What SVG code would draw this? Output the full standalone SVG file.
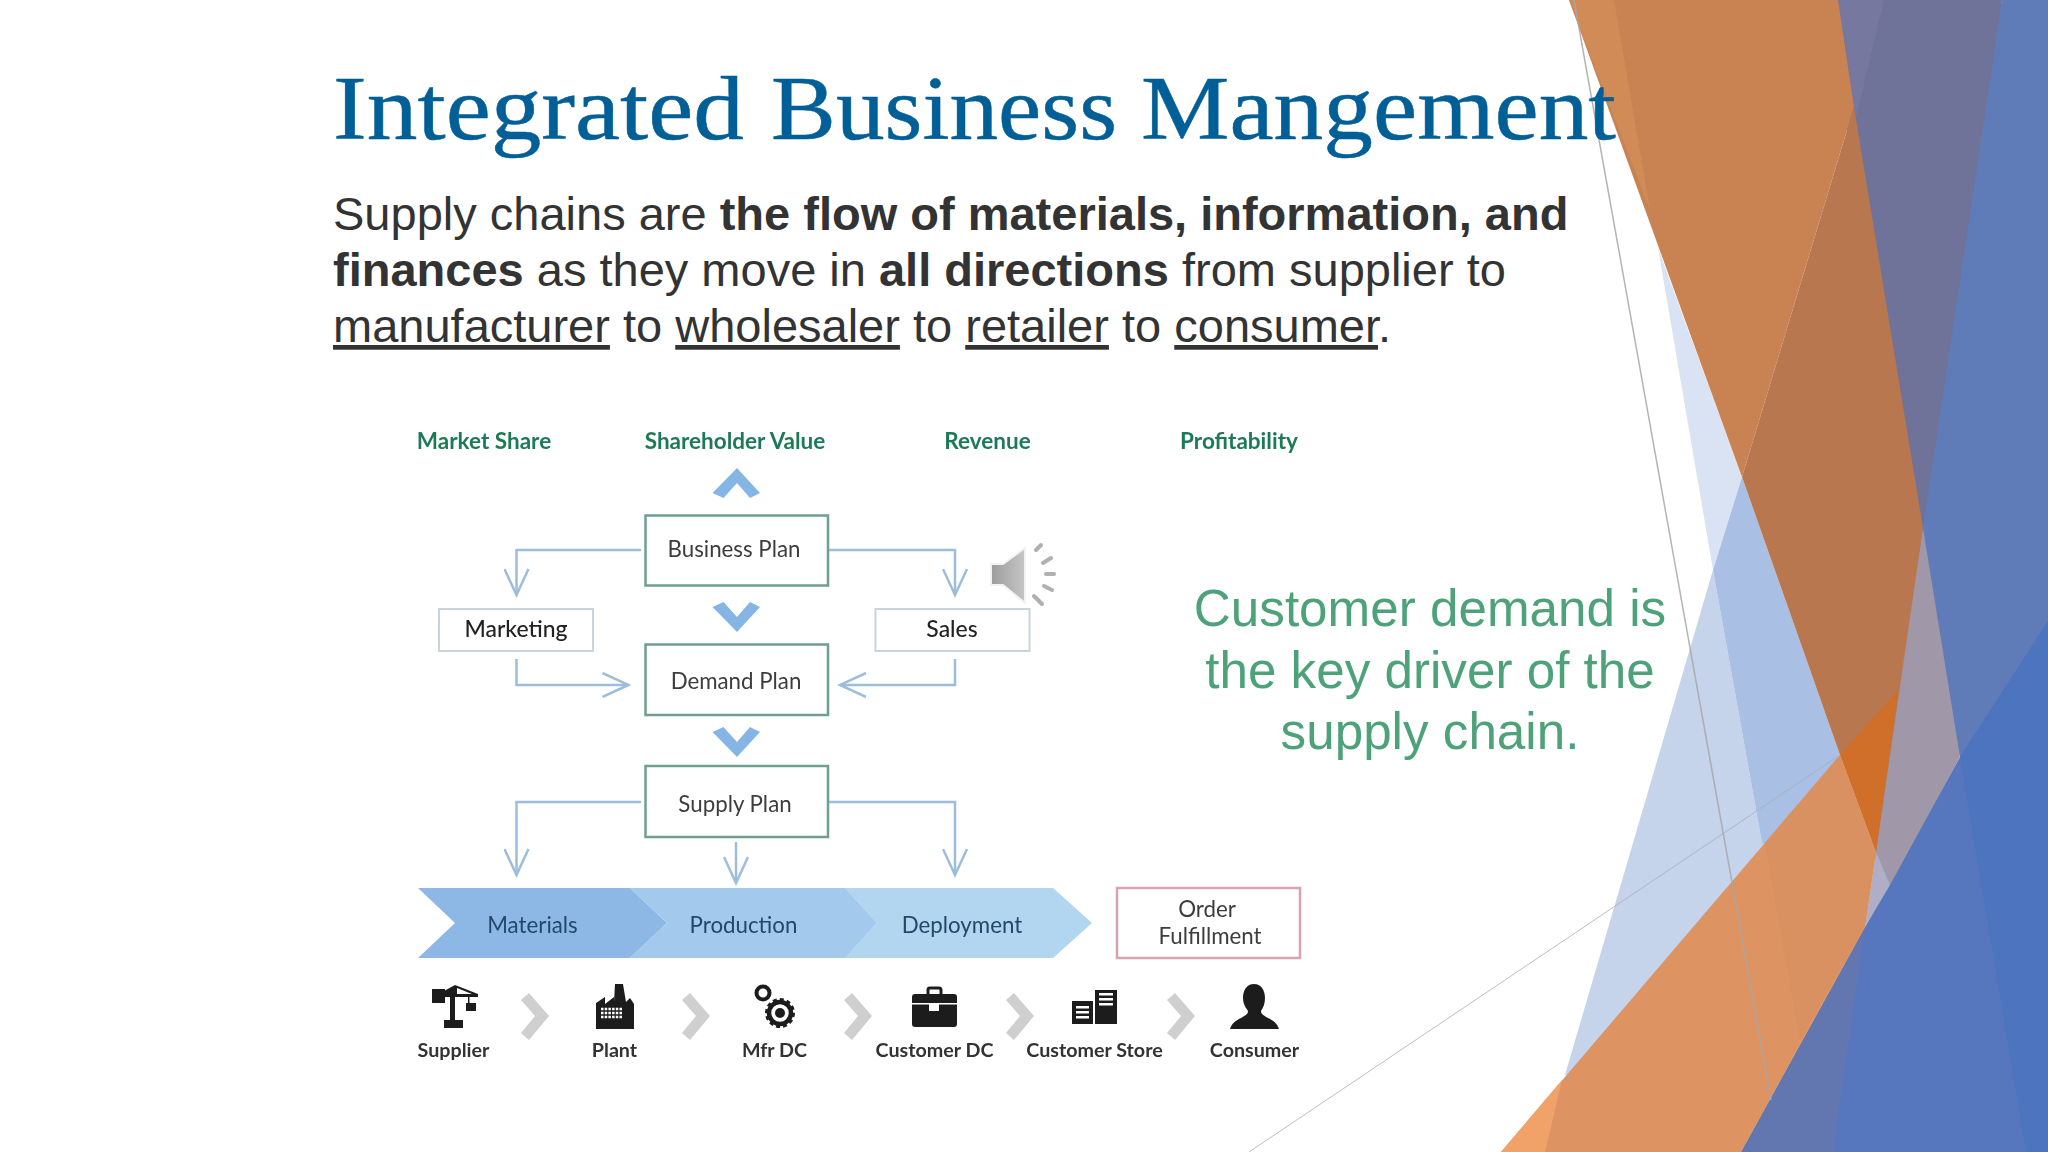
<svg xmlns="http://www.w3.org/2000/svg" width="2048" height="1152" viewBox="0 0 2048 1152">
<defs>
<filter id="soft" x="-2%" y="-2%" width="104%" height="104%"><feGaussianBlur stdDeviation="0.450"/></filter>
<linearGradient id="spk" x1="0" y1="0" x2="1" y2="0"><stop offset="0" stop-color="#9c9c9c"/><stop offset="1" stop-color="#c6c6c6"/></linearGradient>
<polygon id="gch" points="0,7 8,0 28,23 8,47 0,40 14,23" fill="#cfcfcf"/>
<polygon id="bch" points="0,5 11,0 24.500,15 37.500,0 47.500,5 24.500,30" fill="#85b5e5"/>
<marker id="open" viewBox="0 0 32 26" refX="29" refY="13" markerWidth="32" markerHeight="26" markerUnits="userSpaceOnUse" orient="auto"><path d="M3 1 L29 13 L3 25" fill="none" stroke="#9dbddc" stroke-width="2.500"/></marker>
</defs>
<style>
text{font-family:"Liberation Sans",Arial,sans-serif}
.title{font-family:"Liberation Serif","Times New Roman",serif;font-size:90px;fill:#005f96;stroke:#005f96;stroke-width:.5px}
.body{font-size:47px;fill:#333333}
.body .b{font-weight:700}
.body .u{text-decoration:underline}
.cta{font-size:51.200px;fill:#4ea27a;text-anchor:middle}
.lt{font-family:Lato,"Open Sans",sans-serif;text-anchor:middle}
.kpi{font-size:22.500px;font-weight:700;fill:#1f7a58}
.pl{font-size:22.300px;fill:#3d3d3d}
.fn{font-size:22.900px;font-weight:500;fill:#222222}
.st{font-size:22.300px;fill:#24486b}
.ic{font-size:19.700px;font-weight:700;fill:#333333}
.box{fill:#ffffff;stroke:#6f9e90;stroke-width:2.500}
.box2{fill:#ffffff;stroke:#c8d5dd;stroke-width:2}
.box3{fill:#ffffff;stroke:#d8a3b0;stroke-width:2.500}
.cn{fill:none;stroke:#9dbddc;stroke-width:2.500;marker-end:url(#open)}
.dk{fill:#1e1e1e}
.wh{fill:#ffffff}
</style>
<rect width="2048" height="1152" fill="#ffffff"/>
<g id="facets">
<polygon points="1658,248 1742,477 1713,570" fill="#d9e3f3"/>
<polygon points="1713,570 1762,843 1790,843 1580,1075 1565,1075" fill="#c5d3eb"/>
<polygon points="1742,477 1840,755 1790,850 1762,843 1713,570" fill="#a9bfe3"/>
<polygon points="2002,0 2048,0 2048,1152 1741,1152 1865,927 1960,757 1900,528" fill="#5677be"/>
<polygon points="2002,0 2048,0 2048,621 1960,757 1900,528" fill="#5f7cb9"/>
<polygon points="1830,0 2002,0 1923,528 1900,528" fill="#6f7299"/>
<polygon points="1838,0 1884,0 1856,118" fill="#76789f"/>
<polygon points="1960,757 2048,621 2048,1152 2026,1152" fill="#4c74bf"/>
<polygon points="1865,927 1833,1152 1741,1152" fill="#6276b0"/>
<polygon points="1923,528 1960,757 1890,885 1870,852" fill="#a097a8"/>
<polygon points="1876,852 1890,885 1865,927" fill="#b0aec6"/>
<polygon points="1569,0 1838,0 1854,107 1742,477" fill="#c98353"/>
<polygon points="1569,0 1614,0 1650,210" fill="#d08b57"/>
<polygon points="1854,107 1923,528 1876,852 1840,755 1742,477" fill="#b9774f"/>
<polygon points="1840,755 1898,690 1876,852" fill="#cf6f2a"/>
<polygon points="1840,755 1876,852 1865,927 1741,1152 1501,1152" fill="#dd9362"/>
<polygon points="1562,1080 1545,1152 1501,1152" fill="#f0a268"/>
<polygon points="1765,843 1840,755 1876,852 1865,927 1800,1040" fill="#d99161"/>
<line x1="1574" y1="0" x2="1771" y2="1100" stroke="#a8a8a8" stroke-width="1.500" opacity=".85"/>
<line x1="1840" y1="755" x2="1249" y2="1152" stroke="#a9b0bd" stroke-width="1" opacity=".8"/>
</g>
<text class="title" y="139"><tspan x="333" textLength="411" lengthAdjust="spacingAndGlyphs">Integrated</tspan> <tspan x="771" textLength="346" lengthAdjust="spacingAndGlyphs">Business</tspan> <tspan x="1141" textLength="475" lengthAdjust="spacingAndGlyphs">Mangement</tspan></text>
<text class="body" x="333" y="230">Supply chains are <tspan class="b">the flow of materials, information, and</tspan></text>
<text class="body" x="333" y="286"><tspan class="b">finances</tspan> as they move in <tspan class="b">all directions</tspan> from supplier to</text>
<text class="body" x="333" y="342"><tspan class="u">manufacturer</tspan> to <tspan class="u">wholesaler</tspan> to <tspan class="u">retailer</tspan> to <tspan class="u">consumer</tspan>.</text>
<text class="cta" x="1430" y="626">Customer demand is</text>
<text class="cta" x="1430" y="687.500">the key driver of the</text>
<text class="cta" x="1430" y="749">supply chain.</text>
<g id="diagram" filter="url(#soft)">
<g id="kpis">
<text class="lt kpi" x="484" y="449">Market Share</text>
<text class="lt kpi" x="735" y="449">Shareholder Value</text>
<text class="lt kpi" x="987.500" y="449">Revenue</text>
<text class="lt kpi" x="1239" y="449">Profitability</text>
</g>
<g id="connectors">
<path class="cn" d="M641 550H516.500V595"/>
<path class="cn" d="M828.500 550H955V595"/>
<path class="cn" d="M516.500 659V685H628.500"/>
<path class="cn" d="M955 659V685H840"/>
<path class="cn" d="M641 802H516.500V875"/>
<path class="cn" d="M736 842V883"/>
<path class="cn" d="M828.500 802H955V875"/>
<use href="#bch" transform="translate(712.500 498) scale(1 -1)"/>
<use href="#bch" transform="translate(712.500 602)"/>
<use href="#bch" transform="translate(712.500 727)"/>
</g>
<g id="business-plan"><rect class="box" x="645.500" y="515.500" width="182.500" height="70"/><text class="lt pl" x="734" y="557">Business Plan</text></g>
<g id="demand-plan"><rect class="box" x="645.500" y="644.500" width="182.500" height="70.500"/><text class="lt pl" x="736" y="689">Demand Plan</text></g>
<g id="supply-plan"><rect class="box" x="645.500" y="766" width="182.500" height="71"/><text class="lt pl" x="735" y="812">Supply Plan</text></g>
<g id="marketing"><rect class="box2" x="439" y="609" width="154" height="42"/><text class="lt fn" x="516" y="637">Marketing</text></g>
<g id="sales"><rect class="box2" x="875.500" y="609" width="154" height="42"/><text class="lt fn" x="952" y="637">Sales</text></g>
<g id="speaker">
<polygon points="991,564 1003,564 1025,548 1025,603 1003,585 991,585" fill="url(#spk)" stroke="#f2f2f2" stroke-width="2"/>
<g stroke="#b0b0b0" stroke-width="4" stroke-linecap="round" fill="none">
<line x1="1036" y1="550" x2="1041" y2="545"/>
<line x1="1043" y1="563" x2="1051" y2="558"/>
<line x1="1046" y1="574" x2="1054" y2="574"/>
<line x1="1044" y1="586" x2="1052" y2="590"/>
<line x1="1034" y1="596" x2="1042" y2="604"/>
</g>
</g>
<g id="band-materials"><polygon points="418,888 630,888 667,923 630,958 418,958 455,923" fill="#8db8e5"/></g>
<g id="band-deployment"><polygon points="845,888 1053,888 1092,923 1053,958 845,958 877,923" fill="#b2d5f0"/></g>
<g id="band-production"><polygon points="630,888 845,888 877,923 845,958 630,958 667,923" fill="#a3c9ec"/></g>
<text class="lt st" x="532.500" y="933">Materials</text>
<text class="lt st" x="743.500" y="933">Production</text>
<text class="lt st" x="962" y="933">Deployment</text>
<g id="order-fulfillment"><rect class="box3" x="1117" y="888" width="183" height="70"/>
<text class="lt pl" x="1207" y="917">Order</text><text class="lt pl" x="1210" y="944">Fulfillment</text></g>
<g id="chain-arrows">
<use href="#gch" x="521" y="993"/><use href="#gch" x="682" y="993"/><use href="#gch" x="844" y="993"/><use href="#gch" x="1006" y="993"/><use href="#gch" x="1167" y="993"/>
</g>
<g id="supplier">
<g class="dk">
<rect x="450" y="992" width="5" height="33"/><rect x="444" y="1020" width="19" height="8"/>
<rect x="432" y="989" width="13" height="14"/><polygon points="444,991 455,985 478,994 478,997 444,997"/>
<rect x="468" y="997" width="1.500" height="7"/><rect x="466" y="1003" width="10" height="8"/>
</g>
<polygon points="457,988 472,994 457,994" class="wh"/>
<text class="lt ic" x="453.500" y="1057">Supplier</text>
</g>
<g id="plant">
<polygon class="dk" points="596,1029 596,1003 605,997 605,1004 614,997 614,1002 615,984 623,984 626,1002 630,998 634,1004 634,1029"/>
<g stroke="#ffffff" stroke-width="2.500" stroke-dasharray="2.500 1.200"><line x1="601" y1="1009" x2="623" y2="1009"/><line x1="601" y1="1013" x2="623" y2="1013"/><line x1="601" y1="1017" x2="623" y2="1017"/></g>
<text class="lt ic" x="614.500" y="1057">Plant</text>
</g>
<g id="mfr-dc">
<circle cx="763" cy="993" r="6.500" fill="none" stroke="#1e1e1e" stroke-width="4"/>
<circle cx="780" cy="1013" r="11" fill="none" stroke="#1e1e1e" stroke-width="4.500"/>
<circle cx="780" cy="1013" r="13.500" fill="none" stroke="#1e1e1e" stroke-width="3" stroke-dasharray="4 3"/>
<circle cx="780" cy="1013" r="5" class="dk"/>
<text class="lt ic" x="774.500" y="1057">Mfr DC</text>
</g>
<g id="customer-dc">
<rect x="928" y="988" width="13" height="10" fill="none" stroke="#1e1e1e" stroke-width="3" rx="2"/>
<rect class="dk" x="912" y="994" width="45" height="33" rx="3"/>
<rect class="wh" x="912" y="1003" width="45" height="1.500"/><rect class="wh" x="929" y="1004" width="10" height="7"/>
<text class="lt ic" x="934.500" y="1057">Customer DC</text>
</g>
<g id="customer-store">
<rect class="dk" x="1072" y="1001" width="21" height="23"/><rect class="dk" x="1095" y="990" width="22" height="34"/>
<g class="wh"><rect x="1076" y="1006" width="13" height="2.500"/><rect x="1076" y="1011" width="13" height="2.500"/><rect x="1076" y="1016" width="13" height="2.500"/>
<rect x="1099" y="993" width="14" height="2.500"/><rect x="1099" y="998" width="14" height="2.500"/><rect x="1099" y="1003" width="14" height="2.500"/></g>
<text class="lt ic" x="1094.500" y="1057">Customer Store</text>
</g>
<g id="consumer">
<path class="dk" d="M1254 984c7 0 11 6 11 14 0 6-2 10-4 13 0 3 2 4 7 7 6 3 9 5 11 11h-49c2-6 5-8 11-11 5-3 7-4 7-7-2-3-5-7-5-13 0-8 4-14 11-14z"/>
<text class="lt ic" x="1254.500" y="1057">Consumer</text>
</g>
</g>
</svg>
